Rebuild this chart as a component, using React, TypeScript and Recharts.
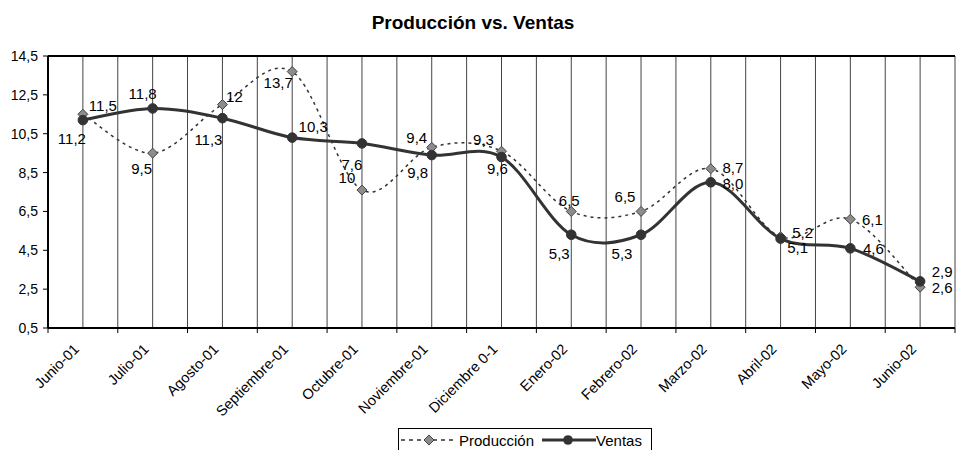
import React from 'react';
import { LineChart, Line, XAxis, YAxis, CartesianGrid, ReferenceLine, LabelList } from 'recharts';

const MESES = [
  'Junio-01', 'Julio-01', 'Agosto-01', 'Septiembre-01', 'Octubre-01', 'Noviembre-01', 'Diciembre 0-1',
  'Enero-02', 'Febrero-02', 'Marzo-02', 'Abril-02', 'Mayo-02', 'Junio-02',
];
const PRODUCCION = [11.5, 9.5, 12, 13.7, 7.6, 9.8, 9.6, 6.5, 6.5, 8.7, 5.2, 6.1, 2.6];
const VENTAS = [11.2, 11.8, 11.3, 10.3, 10, 9.4, 9.3, 5.3, 5.3, 8.0, 5.1, 4.6, 2.9];
const PRODUCCION_TEXTOS = ['11,5', '9,5', '12', '13,7', '7,6', '9,8', '9,6', '6,5', '6,5', '8,7', '5,2', '6,1', '2,6'];
const VENTAS_TEXTOS = ['11,2', '11,8', '11,3', '10,3', '10', '9,4', '9,3', '5,3', '5,3', '8,0', '5,1', '4,6', '2,9'];
const Y_TICKS = [0.5, 2.5, 4.5, 6.5, 8.5, 10.5, 12.5, 14.5];

// where excel left each data label, relative to its point (dx, dy)
const PROD_LABEL_POS = [
  [20, -9], [-11, 15], [12, -8], [-14, 11], [-10, -26], [-14, 25], [-4, 17],
  [-2, -11], [-16, -15], [22, -1], [22, -4], [22, 0], [22, 0],
];
const VENTAS_LABEL_POS = [
  [-11, 18], [-10, -15], [-14, 21], [21, -11], [-15, 34], [-15, -18], [-18, -18],
  [-12, 19], [-19, 19], [22, 1], [17, 9], [23, 0], [22, -10],
];

const W = 957;
const H = 450;
const LEFT = 48;
const RIGHT = 2;
const TOP = 56;
const X_AXIS_H = 122;
const PLOT_BOTTOM = H - X_AXIS_H;
const HALF = (W - LEFT - RIGHT) / (MESES.length * 2);
const FONT = '"Liberation Sans", Arial, sans-serif';
const INK = '#333';

const data = MESES.map((mes, i) => ({ mes, produccion: PRODUCCION[i], ventas: VENTAS[i] }));

// smoothing like excel: bezier through every point, handles at 1/6 of neighbour span
const excelCurve = (context: any) => {
  let pts: number[][] = [];
  return {
    areaStart() {},
    areaEnd() {},
    lineStart() { pts = []; },
    point(x: number, y: number) { pts.push([+x, +y]); },
    lineEnd() {
      const n = pts.length;
      if (!n) return;
      context.moveTo(pts[0][0], pts[0][1]);
      for (let i = 0; i < n - 1; i++) {
        const p0 = pts[Math.max(i - 1, 0)];
        const p1 = pts[i];
        const p2 = pts[i + 1];
        const p3 = pts[Math.min(i + 2, n - 1)];
        context.bezierCurveTo(
          p1[0] + (p2[0] - p0[0]) / 6, p1[1] + (p2[1] - p0[1]) / 6,
          p2[0] - (p3[0] - p1[0]) / 6, p2[1] - (p3[1] - p1[1]) / 6,
          p2[0], p2[1],
        );
      }
    },
  };
};

const Diamond = ({ cx, cy }: any) => (
  <path d={`M${cx},${cy - 5}L${cx + 5},${cy}L${cx},${cy + 5}L${cx - 5},${cy}Z`} fill="#8c8c8c" stroke="#444" strokeWidth={1} />
);

const Dot = ({ cx, cy }: any) => <circle cx={cx} cy={cy} r={4.8} fill={INK} stroke={INK} />;

const makeLabel = (texts: string[], pos: number[][]) => (p: any) => {
  const i = p.index;
  return (
    <text x={p.x + pos[i][0]} y={p.y + pos[i][1]} textAnchor="middle" dominantBaseline="central"
      fontFamily={FONT} fontSize={15} fill="#000">
      {texts[i]}
    </text>
  );
};

const XTick = ({ x, payload, index }: any) => (
  <g>
    <line x1={x - HALF} y1={PLOT_BOTTOM} x2={x - HALF} y2={PLOT_BOTTOM + 5} stroke="#000" />
    {index === MESES.length - 1 && (
      <line x1={x + HALF} y1={PLOT_BOTTOM} x2={x + HALF} y2={PLOT_BOTTOM + 5} stroke="#000" />
    )}
    <text transform={`translate(${x - 3},${PLOT_BOTTOM + 22}) rotate(-45)`} textAnchor="end"
      fontFamily={FONT} fontSize={14.5} fill="#000">
      {payload.value}
    </text>
  </g>
);

const Leyenda = () => (
  <div style={{
    position: 'absolute', left: 398, top: 428, width: 254, height: 24, border: '1px solid #000',
    background: '#fff', display: 'flex', alignItems: 'center', fontFamily: FONT, fontSize: 15,
    boxSizing: 'border-box',
  }}>
    <svg width={58} height={14} style={{ marginLeft: 2 }}>
      <line x1={0} y1={7} x2={56} y2={7} stroke={INK} strokeWidth={1.5} strokeDasharray="4 4" />
      <path d="M28,2L33,7L28,12L23,7Z" fill="#8c8c8c" stroke="#444" />
    </svg>
    <span>Producción</span>
    <svg width={54} height={14} style={{ marginLeft: 8 }}>
      <line x1={0} y1={7} x2={54} y2={7} stroke={INK} strokeWidth={3} />
      <circle cx={26} cy={7} r={4.8} fill={INK} />
    </svg>
    <span>Ventas</span>
  </div>
);

export default function App() {
  return (
    <div style={{ position: 'absolute', left: 0, top: 0, width: W, height: H, background: '#fff', overflow: 'hidden' }}>
      <LineChart width={W} height={H} data={data} margin={{ top: TOP, right: RIGHT, left: 0, bottom: 0 }}>
        <text x={473} y={29} textAnchor="middle" fontFamily={FONT} fontWeight="bold" fontSize={19} fill="#000">
          Producción vs. Ventas
        </text>
        <CartesianGrid
          horizontal={false}
          stroke="#444"
          verticalCoordinatesGenerator={({ offset }: any) =>
            Array.from({ length: MESES.length * 2 + 1 }, (_, k) => offset.left + (k * offset.width) / (MESES.length * 2))}
        />
        <XAxis
          dataKey="mes"
          interval={0}
          height={X_AXIS_H}
          padding={{ left: HALF, right: HALF }}
          tickLine={false}
          axisLine={{ stroke: '#000', strokeWidth: 2 }}
          tick={<XTick />}
        />
        <YAxis
          width={LEFT}
          domain={[0.5, 14.5]}
          ticks={Y_TICKS}
          tickSize={5}
          tickMargin={5}
          tickLine={{ stroke: '#000' }}
          axisLine={{ stroke: '#000', strokeWidth: 2 }}
          tick={{ fontFamily: FONT, fontSize: 14, fill: '#000' }}
          tickFormatter={(v: number) => String(v).replace('.', ',')}
        />
        <ReferenceLine y={14.5} stroke="#000" strokeWidth={2} />
        <Line
          dataKey="produccion"
          type={excelCurve as any}
          stroke={INK}
          strokeWidth={1.5}
          strokeDasharray="3 4"
          dot={<Diamond />}
          isAnimationActive={false}
        >
          <LabelList dataKey="produccion" content={makeLabel(PRODUCCION_TEXTOS, PROD_LABEL_POS)} />
        </Line>
        <Line
          dataKey="ventas"
          type={excelCurve as any}
          stroke={INK}
          strokeWidth={3}
          dot={<Dot />}
          isAnimationActive={false}
        >
          <LabelList dataKey="ventas" content={makeLabel(VENTAS_TEXTOS, VENTAS_LABEL_POS)} />
        </Line>
      </LineChart>
      <Leyenda />
    </div>
  );
}
